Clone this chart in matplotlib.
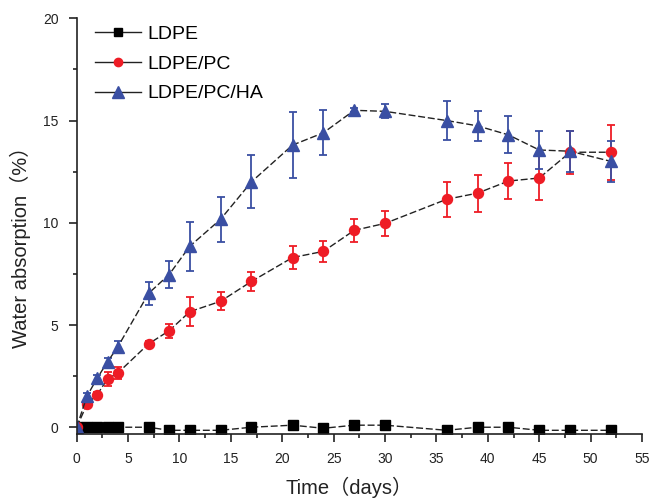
import matplotlib
matplotlib.use('Agg')
import matplotlib.pyplot as plt
from matplotlib.ticker import MultipleLocator
from matplotlib.lines import Line2D

plt.rcParams['font.family'] = ['Liberation Sans', 'Noto Sans CJK SC', 'DejaVu Sans']

days = [0, 1, 2, 3, 4, 7, 9, 11, 14, 17, 21, 24, 27, 30, 36, 39, 42, 45, 48, 52]

ldpe = [0.0, 0.0, 0.0, 0.0, 0.0, 0.0, -0.15, -0.15, -0.15, 0.0, 0.1, -0.05,
        0.1, 0.1, -0.15, 0.0, 0.0, -0.15, -0.15, -0.15]

ldpe_pc = [0.0, 1.12, 1.6, 2.36, 2.65, 4.08, 4.72, 5.65, 6.16, 7.13, 8.3, 8.6,
           9.63, 9.97, 11.15, 11.45, 12.04, 12.19, 13.45, 13.45]
ldpe_pc_err = [0.0, 0.15, 0.1, 0.35, 0.3, 0.15, 0.35, 0.7, 0.45, 0.45, 0.55, 0.5,
               0.55, 0.6, 0.85, 0.9, 0.9, 1.1, 1.05, 1.35]

ldpe_pc_ha = [0.0, 1.52, 2.4, 3.2, 3.93, 6.55, 7.47, 8.85, 10.17, 12.0, 13.8, 14.4,
              15.5, 15.45, 15.0, 14.74, 14.3, 13.56, 13.5, 13.0]
ldpe_pc_ha_err = [0.0, 0.15, 0.15, 0.2, 0.3, 0.55, 0.65, 1.2, 1.1, 1.3, 1.6, 1.1,
                  0.1, 0.35, 0.95, 0.75, 0.9, 0.95, 1.0, 1.0]

labels = ['LDPE', 'LDPE/PC', 'LDPE/PC/HA']

red = '#ee1c25'
blue = '#3a4fa3'
ink = '#222222'
dash = (0, (5, 2))

fig = plt.figure(figsize=(6.52, 4.99), dpi=100)
ax = fig.add_axes([0.1176, 0.1303, 0.8671, 0.833])

ax.plot(days, ldpe, color=ink, linestyle=dash, linewidth=1,
        marker='s', markersize=7, markerfacecolor='black', markeredgecolor='black')
ax.errorbar(days, ldpe_pc, yerr=ldpe_pc_err, color=ink, linestyle=dash, linewidth=1,
            marker='o', markersize=7.2, markerfacecolor=red, markeredgecolor=red,
            ecolor=red, elinewidth=1.3, capsize=3, capthick=1.3)
ax.errorbar(days, ldpe_pc_ha, yerr=ldpe_pc_ha_err, color=ink, linestyle=dash, linewidth=1,
            marker='^', markersize=9, markerfacecolor=blue, markeredgecolor=blue,
            ecolor=blue, elinewidth=1.3, capsize=3, capthick=1.3)

ax.set_xlim(0, 55)
ax.set_ylim(-0.33, 20)
ax.xaxis.set_major_locator(MultipleLocator(5))
ax.xaxis.set_minor_locator(MultipleLocator(2.5))
ax.yaxis.set_major_locator(MultipleLocator(5))
ax.yaxis.set_minor_locator(MultipleLocator(2.5))

for s in ['top', 'right']:
    ax.spines[s].set_visible(False)
for s in ['left', 'bottom']:
    ax.spines[s].set_linewidth(1.2)
    ax.spines[s].set_color(ink)

ax.tick_params(which='major', direction='out', length=6, width=1.2, pad=7,
               labelsize=10, colors=ink)
ax.tick_params(which='minor', direction='out', length=3, width=1.2, colors=ink)

ax.set_xlabel('Time（days）', fontsize=14.5, color=ink)
ax.xaxis.set_label_coords(0.481, -0.102)
ax.set_ylabel('Water absorption（%）', fontsize=14.5, color=ink)
ax.yaxis.set_label_coords(-0.08, 0.46)

handles = [
    Line2D([], [], color=ink, linewidth=1, marker='s', markersize=5.5,
           markerfacecolor='black', markeredgecolor='black'),
    Line2D([], [], color=ink, linewidth=1, marker='o', markersize=6,
           markerfacecolor=red, markeredgecolor=red),
    Line2D([], [], color=ink, linewidth=1, marker='^', markersize=8,
           markerfacecolor=blue, markeredgecolor=blue),
]
ax.legend(handles, labels, loc='upper left', bbox_to_anchor=(0.032, 0.983),
          frameon=False, fontsize=14, handlelength=2.4, labelspacing=0.62,
          handletextpad=0.3, borderpad=0, borderaxespad=0)

fig.savefig('out.png', dpi=100)
